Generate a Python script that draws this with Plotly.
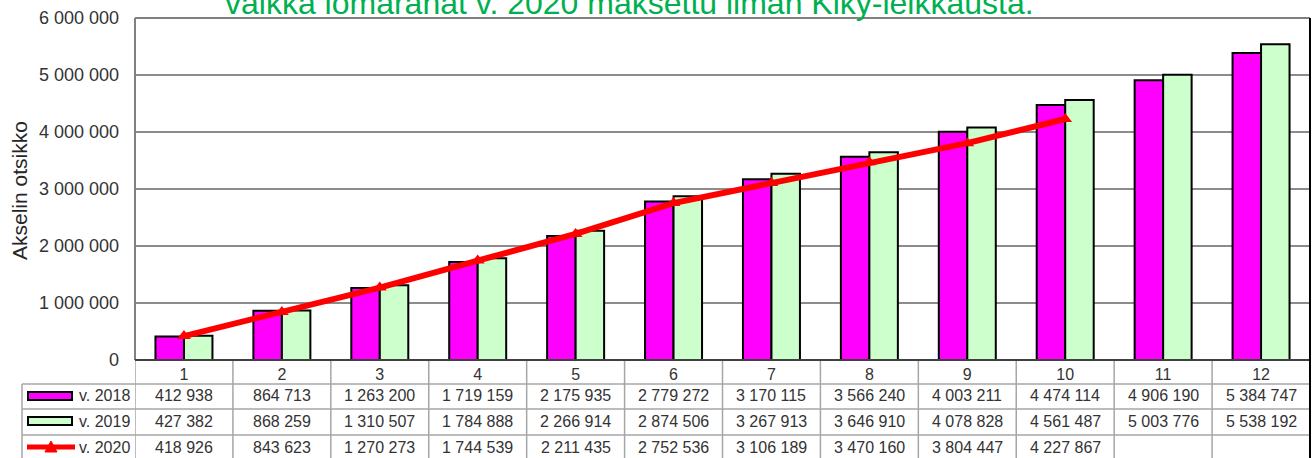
import plotly.graph_objects as go

# ---------------- data ----------------
categories = ["1", "2", "3", "4", "5", "6", "7", "8", "9", "10", "11", "12"]
v2018 = [412938, 864713, 1263200, 1719159, 2175935, 2779272, 3170115, 3566240,
         4003211, 4474114, 4906190, 5384747]
v2019 = [427382, 868259, 1310507, 1784888, 2266914, 2874506, 3267913, 3646910,
         4078828, 4561487, 5003776, 5538192]
v2020 = [418926, 843623, 1270273, 1744539, 2211435, 2752536, 3106189, 3470160,
         3804447, 4227867]
series_names = ["v. 2018", "v. 2019", "v. 2020"]
y_ticks = [0, 1000000, 2000000, 3000000, 4000000, 5000000, 6000000]
title_text = "vaikka lomarahat v. 2020 maksettu ilman Kiky-leikkausta."
y_title = "Akselin otsikko"

# ---------------- layout geometry (pixels) ----------------
W, H = 1316, 458
ML, MR, MT, MB = 135, 6, 18, 98
PW = W - ML - MR
PH = H - MT - MB

def px(x):
    return (x - ML) / PW

def py(y):
    return (H - MB - y) / PH

def fmt(v):
    return f"{v:,}".replace(",", " ")

FONT = "Liberation Sans, Arial, sans-serif"
TXT = "#333333"
GRID_T = "#A6A6A6"
C18, C19, C20 = "#FF00FF", "#CCFFCC", "#FF0000"

fig = go.Figure()
fig.add_trace(go.Bar(x=categories, y=v2018, name=series_names[0],
                     marker=dict(color=C18, line=dict(color="black", width=2))))
fig.add_trace(go.Bar(x=categories, y=v2019, name=series_names[1],
                     marker=dict(color=C19, line=dict(color="black", width=2))))
fig.add_trace(go.Scatter(x=categories[:len(v2020)], y=v2020, name=series_names[2],
                         mode="lines+markers",
                         line=dict(color=C20, width=6),
                         marker=dict(symbol="triangle-up", size=12, color=C20)))

shapes = []
# gridlines
for t in y_ticks[1:-1]:
    shapes.append(dict(type="line", xref="paper", yref="y", x0=0, x1=1, y0=t, y1=t,
                       line=dict(color="#1a1a1a", width=1.2), layer="below"))
# table lines
rows_y = [360, 384, 409, 435]
for i, yy in enumerate(rows_y):
    x0 = px(135) if i == 0 else px(22)
    shapes.append(dict(type="line", xref="paper", yref="paper", x0=x0, x1=1,
                       y0=py(yy), y1=py(yy), line=dict(color=GRID_T, width=1.5)))
for k in range(len(categories)):
    shapes.append(dict(type="line", xref="x", yref="paper", x0=k - 0.5, x1=k - 0.5,
                       y0=py(360), y1=py(470), line=dict(color=GRID_T, width=1.5)))
shapes.append(dict(type="line", xref="paper", yref="paper", x0=px(22), x1=px(22),
                   y0=py(384), y1=py(470), line=dict(color=GRID_T, width=1.5)))
# plot borders
shapes.append(dict(type="line", xref="paper", yref="paper", x0=0, x1=1, y0=1, y1=1,
                   line=dict(color="#808080", width=2)))
shapes.append(dict(type="line", xref="paper", yref="paper", x0=0, x1=0, y0=0, y1=1,
                   line=dict(color="#808080", width=2)))
shapes.append(dict(type="line", xref="paper", yref="paper", x0=0, x1=1, y0=0, y1=0,
                   line=dict(color="#404040", width=2)))
shapes.append(dict(type="line", xref="paper", yref="paper", x0=1, x1=1, y0=py(470), y1=1,
                   line=dict(color="black", width=2)))
# legend keys in table
shapes.append(dict(type="rect", xref="paper", yref="paper", x0=px(28), x1=px(72),
                   y0=py(400), y1=py(392), fillcolor=C18, line=dict(color="black", width=2)))
shapes.append(dict(type="rect", xref="paper", yref="paper", x0=px(28), x1=px(72),
                   y0=py(425), y1=py(417), fillcolor=C19, line=dict(color="black", width=2)))
shapes.append(dict(type="line", xref="paper", yref="paper", x0=px(27), x1=px(75),
                   y0=py(447), y1=py(447), line=dict(color=C20, width=5)))
tri = f"M {px(45)},{py(452)} L {px(57)},{py(452)} L {px(51)},{py(441)} Z"
shapes.append(dict(type="path", xref="paper", yref="paper", path=tri,
                   fillcolor=C20, line=dict(color=C20, width=1)))

annotations = []
row_centers = [396, 421, 447]
series_vals = [v2018, v2019, v2020]
for name, vals, yc in zip(series_names, series_vals, row_centers):
    annotations.append(dict(x=px(77), y=py(yc), xref="paper", yref="paper", text=name,
                            showarrow=False, xanchor="left", yanchor="middle",
                            font=dict(size=16, color=TXT, family=FONT)))
    for k, v in enumerate(vals):
        annotations.append(dict(x=k, y=py(yc), xref="x", yref="paper", text=fmt(v),
                                showarrow=False, xanchor="center", yanchor="middle",
                                font=dict(size=16, color=TXT, family=FONT)))
# title (partially cut at top as in the reference)
annotations.append(dict(x=px(629), y=py(3), xref="paper", yref="paper", text=title_text,
                        showarrow=False, xanchor="center", yanchor="middle",
                        font=dict(size=32, color="#00B050", family=FONT)))
# y axis title
annotations.append(dict(x=px(19), y=py(190), xref="paper", yref="paper", text=y_title,
                        showarrow=False, xanchor="center", yanchor="middle", textangle=-90,
                        font=dict(size=21, color="#262626", family=FONT)))

fig.update_layout(
    width=W, height=H,
    margin=dict(l=ML, r=MR, t=MT, b=MB, pad=0, autoexpand=False),
    paper_bgcolor="white", plot_bgcolor="white",
    barmode="group", bargap=0.418, bargroupgap=0,
    showlegend=False,
    shapes=shapes, annotations=annotations,
    font=dict(family=FONT, color=TXT),
)
fig.update_xaxes(type="category", categoryorder="array", categoryarray=categories,
                 range=[-0.5, len(categories) - 0.5], showgrid=False, showline=False,
                 zeroline=False, ticks="", tickfont=dict(size=16, color=TXT, family=FONT),
                 ticklabelstandoff=3, automargin=False)
fig.update_yaxes(range=[0, 6000000], tickvals=y_ticks, ticktext=[fmt(t) for t in y_ticks],
                 showgrid=False, zeroline=False, showline=False, ticks="",
                 tickfont=dict(size=18, color=TXT, family=FONT), ticklabelstandoff=15,
                 automargin=False)

fig.write_html("out.html", config={"displayModeBar": False},
               post_script="document.body.style.margin='0';document.body.style.overflow='hidden';")
